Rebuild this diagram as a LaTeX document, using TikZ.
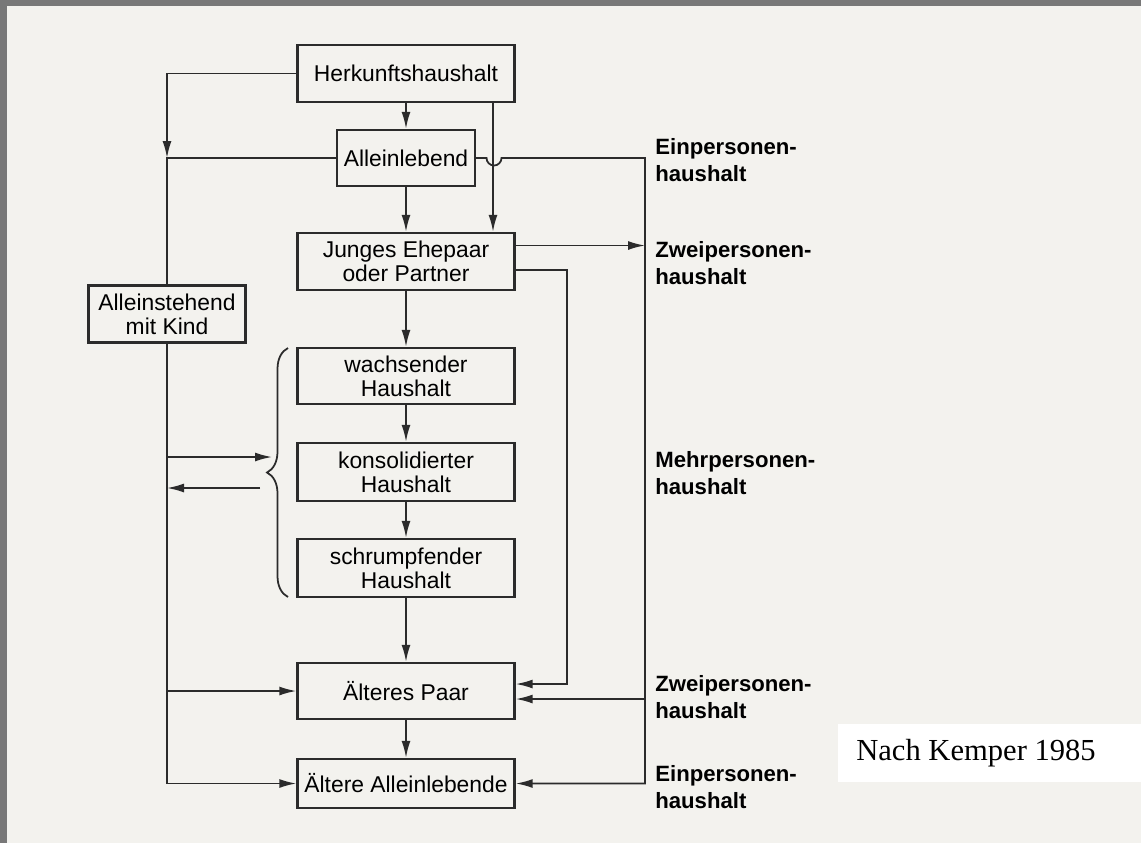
\documentclass[tikz,border=0pt]{standalone}
\usepackage{fontspec}
\setmainfont{Liberation Sans}
\newfontfamily\serifnote{Liberation Serif}
\usetikzlibrary{arrows.meta,decorations.pathreplacing}
\definecolor{paper}{HTML}{F3F2EE}
\definecolor{rahmen}{HTML}{787878}
\definecolor{ink}{HTML}{2B2B2B}
\tikzset{
  box/.style={draw=ink, line width=1.4pt, minimum width=4.34cm, minimum height=1.14cm,
    align=center, inner sep=2pt, font=\fontsize{13}{13.6}\selectfont},
  wire/.style={draw=ink, line width=1pt},
  arr/.style={wire, -{Latex[length=0.34cm,width=0.18cm]}},
  lab/.style={anchor=west, inner sep=0pt, align=left, font=\bfseries\fontsize{12.6}{15.4}\selectfont},
}
\begin{document}
\begin{tikzpicture}[x=0.02cm, y=-0.02cm]
  % Paper
  \fill[rahmen] (0,0) rectangle (1141,843);
  \fill[paper] (7,6) rectangle (1141,843);
  % Boxes
  \node[box] (herk) at (406,73.5) {Herkunftshaushalt};
  \node[box, minimum width=2.76cm, minimum height=1.12cm] (allein) at (406,158) {Alleinlebend};
  \node[box] (junges) at (406,261.5) {Junges Ehepaar\\oder Partner};
  \node[box, minimum height=1.12cm] (wachs) at (406,376) {wachsender\\Haushalt};
  \node[box, minimum height=1.16cm] (kons) at (406,472) {konsolidierter\\Haushalt};
  \node[box, minimum height=1.16cm] (schrumpf) at (406,568) {schrumpfender\\Haushalt};
  \node[box, minimum height=1.12cm] (paar) at (406,691) {Älteres Paar};
  \node[box, minimum height=0.98cm] (alte) at (406,783.5) {Ältere Alleinlebende};
  \node[box, minimum width=3.14cm] (kind) at (167,314) {Alleinstehend\\mit Kind};
  % Helper points
  \coordinate (lx) at (167,0);
  \coordinate (mx) at (493,0);
  \coordinate (sx) at (567,0);
  \coordinate (rx) at (645,0);
  \coordinate (br) at (486.5,0);
  \coordinate (toin) at (272,457);
  \coordinate (fromout) at (260,488);
  \coordinate (j1) at ([yshift=0.32cm]junges.east);
  \coordinate (j2) at ([yshift=-0.17cm]junges.east);
  \coordinate (p1) at ([yshift=0.14cm]paar.east);
  \coordinate (p2) at ([yshift=-0.16cm]paar.east);
  % Main column
  \foreach \a/\b in {herk/allein, allein/junges, junges/wachs, wachs/kons,
                     kons/schrumpf, schrumpf/paar, paar/alte}
    \draw[arr] (\a.south) -- (\b.north);
  % Left side
  \draw[arr] (herk.west) -| (lx |- allein.west);
  \draw[wire] (allein.west) -| (kind.north);
  \draw[arr] (kind.south) |- (alte.west);
  \draw[arr] (lx |- paar.west) -- (paar.west);
  \draw[arr] (lx |- toin) -- (toin);
  \draw[arr] (fromout) -- (lx |- fromout);
  % Brace
  \draw[ink, line width=1pt, decorate, decoration={brace, amplitude=0.42cm}]
    (288,597) -- (288,348);
  % Right side
  \draw[arr] (herk.south -| mx) -- (junges.north -| mx);
  \draw[arr] (allein.east) -- (allein.east -| br)
    arc[start angle=180, end angle=360, radius=0.15cm]
    -- (rx |- allein.east) |- (alte.east);
  \draw[arr] (j1) -- (j1 -| rx);
  \draw[arr] (j2) -| (sx |- p1) -- (p1);
  \draw[arr] (rx |- p2) -- (p2);
  % Labels
  \node[lab] (ein1) at (655,160) {Einpersonen-\\haushalt};
  \node[lab] (zwei1) at (655,263) {Zweipersonen-\\haushalt};
  \node[lab] (mehr) at (655,473) {Mehrpersonen-\\haushalt};
  \node[lab] (zwei2) at (655,697) {Zweipersonen-\\haushalt};
  \node[lab] (ein2) at (655,787) {Einpersonen-\\haushalt};
  % Source
  \fill[white] (838,724) rectangle (1141,782);
  \node[font=\serifnote\fontsize{17.4}{20}\selectfont] (quelle) at (976,753) {Nach Kemper 1985};
\end{tikzpicture}
\end{document}
